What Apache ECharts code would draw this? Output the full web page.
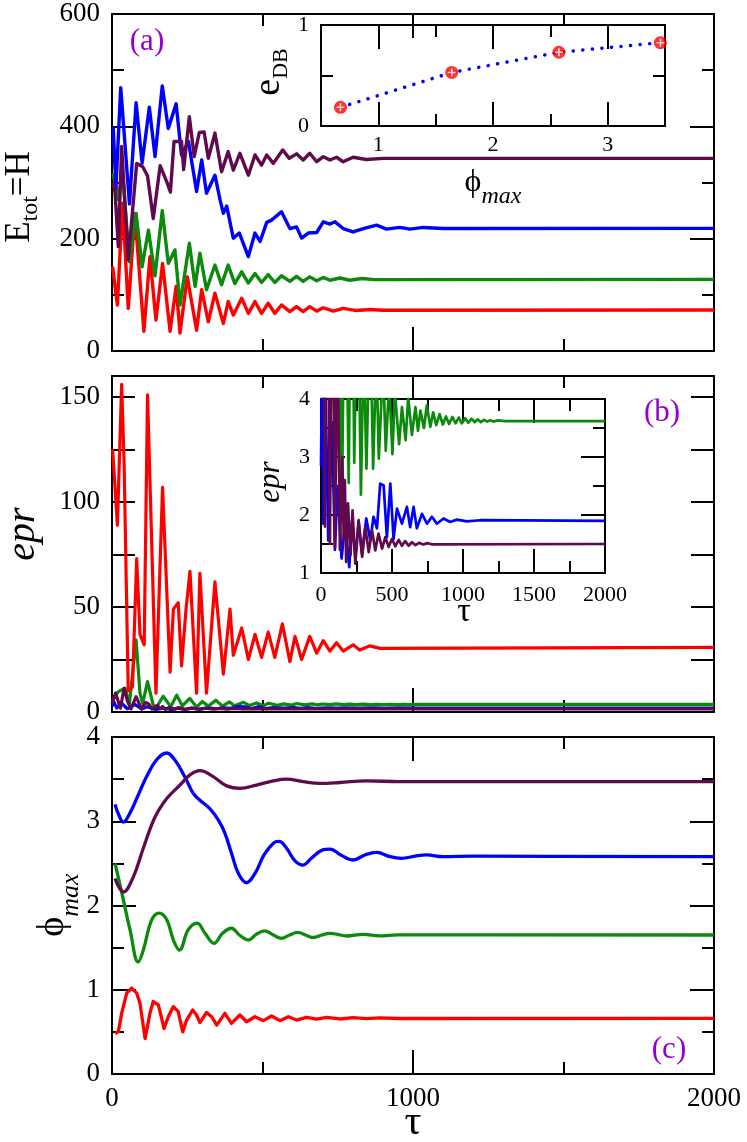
<!DOCTYPE html>
<html>
<head>
<meta charset="utf-8">
<script src="https://cdn.jsdelivr.net/npm/echarts@6/dist/echarts.min.js"></script>
<style>
  html, body { margin: 0; padding: 0; background: #fff; }
  #chart { width: 747px; height: 1142px; }
</style>
</head>
<body>
<div id="chart"></div>
<script>
// ---- data: [tau, value] ----

// (a) total energy
const aRed = [[2,150],[18,82],[35,263],[54,76],[76,245],[106,35],[126,168],[146,55],[168,156],[193,35],[213,115],[226,32],[250,132],[281,37],[298,109],[320,52],[342,103],[370,49],[386,88],[403,64],[431,94],[453,67],[475,88],[497,67],[519,85],[541,67],[563,82],[591,70],[613,79],[635,70],[657,79],[680,71],[702,77],[735,71],[768,76],[812,72],[857,74],[900,72.5],[2000,73]];
const aGreen = [[4,316],[20,270],[35,318],[58,159],[80,245],[100,150],[121,215],[143,134],[167,250],[187,156],[209,180],[226,82],[257,192],[276,115],[292,174],[314,109],[342,153],[364,118],[386,153],[408,120],[431,141],[453,121],[475,138],[497,122],[519,136],[541,122],[563,134],[591,124],[613,133],[635,124],[657,132],[680,125],[702,131],[724,126],[757,130],[790,126],[830,129],[870,127],[2000,127.6]];
const aBlue = [[4,399],[13,290],[29,469],[58,262],[80,442],[100,334],[124,434],[143,346],[167,472],[187,396],[213,440],[231,349],[254,373],[281,284],[298,340],[314,281],[342,313],[359,269],[370,245],[381,258],[403,201],[423,210],[453,168],[475,210],[492,195],[514,229],[530,233],[563,248],[591,218],[613,221],[630,201],[652,210],[680,211],[702,230],[724,226],[741,230],[768,218],[801,212],[835,218],[879,224],[912,217],[956,220],[990,217],[1034,220],[1100,218],[2000,218.4]];
const aPurple = [[2,300],[10,284],[21,186],[32,364],[54,162],[82,334],[102,328],[118,312],[137,236],[160,330],[182,301],[194,283],[206,373],[231,373],[238,323],[257,417],[273,346],[290,389],[306,390],[320,343],[342,388],[364,319],[386,355],[403,322],[425,352],[453,313],[475,349],[497,331],[514,349],[536,334],[567,358],[589,343],[613,351],[635,340],[657,352],[680,337],[702,346],[724,340],[746,345],[768,337],[801,345],[845,341],[901,343],[2000,343]];

// (b) epr (the inset shows the same green / blue / purple curves)
const bRed = [[2,125],[18,89],[32,156],[40,120],[54,10],[68,12],[82,73],[93,37],[107,32],[118,151],[146,9],[168,107],[193,19],[204,49],[220,52],[231,22],[246,49],[259,67],[281,9],[292,66],[314,9],[342,62],[370,18],[392,49],[403,27],[431,40],[453,25],[475,37],[497,26],[519,38],[541,26],[566,42],[591,24],[608,36],[630,25],[657,36],[680,28],[702,34],[724,29],[746,33],[768,29],[801,32],[823,29.5],[856,31.5],[890,30.3],[2000,30.8]];
const bGreen = [[2,5.9],[21,9.7],[43,11.3],[58,4.1],[80,34.3],[93,8.9],[102,4.1],[118,14.5],[137,3.3],[148,2.25],[170,7.5],[195,2.55],[215,8.0],[234,2.9],[258,6.5],[281,2.35],[300,5.0],[320,2.8],[345,5.6],[367,2.8],[390,4.8],[407,2.97],[437,4.6],[456,3.11],[480,4.3],[503,3.05],[520,4.14],[550,3.22],[570,3.86],[596,3.29],[614,4.03],[640,3.38],[665,3.86],[683,3.45],[700,3.8],[725,3.5],[745,3.89],[770,3.52],[790,3.77],[812,3.55],[835,3.74],[858,3.56],[880,3.7],[902,3.57],[925,3.69],[948,3.58],[970,3.68],[992,3.58],[1015,3.67],[1037,3.59],[1060,3.66],[1082,3.6],[1104,3.65],[1126,3.6],[1148,3.64],[1170,3.61],[1192,3.635],[1215,3.61],[1240,3.63],[1300,3.62],[2000,3.62]];
const bBlue = [[0,2.85],[7,4.6],[16,1.85],[30,4.4],[51,1.56],[77,3.6],[98,1.4],[117,2.5],[145,1.25],[171,1.88],[199,1.1],[218,1.88],[242,1.28],[265,1.88],[288,1.33],[319,1.94],[347,1.56],[370,1.97],[394,1.77],[417,2.54],[441,2.51],[464,1.62],[488,2.54],[511,1.59],[535,2.11],[570,1.85],[605,2.14],[628,1.79],[652,2.14],[675,1.77],[711,2.02],[746,1.85],[781,1.97],[816,1.85],[863,1.94],[910,1.88],[957,1.92],[1027,1.89],[1121,1.91],[2000,1.9]];
const bPurple = [[0,4.1],[12,9],[28,1.8],[40,11.3],[52,5],[63,1.5],[80,7.3],[98,1.45],[112,4.6],[122,3.84],[133,1.4],[150,3.0],[160,1.6],[168,2.6],[177,1.19],[190,2.2],[208,1.31],[222,2.08],[242,1.16],[265,1.91],[290,1.28],[312,1.79],[336,1.36],[359,1.74],[382,1.39],[405,1.68],[430,1.42],[453,1.62],[476,1.45],[500,1.59],[523,1.46],[547,1.57],[570,1.47],[593,1.55],[617,1.47],[640,1.53],[665,1.48],[690,1.52],[720,1.49],[750,1.515],[780,1.495],[2000,1.5]];

// (c) phi_max
const cRed = [[10,0.48],[21,0.5],[32,0.72],[49,0.96],[65,1.02],[82,0.96],[93,0.84],[110,0.42],[126,0.72],[137,0.86],[154,0.82],[173,0.54],[187,0.68],[204,0.8],[220,0.74],[235,0.5],[248,0.64],[268,0.76],[281,0.7],[292,0.61],[314,0.73],[331,0.68],[348,0.58],[375,0.72],[397,0.6],[425,0.7],[447,0.62],[475,0.68],[503,0.633],[530,0.689],[558,0.633],[586,0.68],[613,0.64],[646,0.673],[680,0.65],[713,0.673],[757,0.653],[801,0.669],[846,0.657],[890,0.665],[950,0.659],[2000,0.661]];
const cGreen = [[10,2.5],[32,2.16],[60,1.71],[87,1.33],[104,1.47],[132,1.83],[157,1.91],[182,1.83],[204,1.59],[224,1.47],[253,1.71],[283,1.79],[309,1.67],[339,1.55],[367,1.67],[397,1.73],[423,1.65],[453,1.59],[480,1.66],[506,1.7],[536,1.65],[563,1.61],[590,1.65],[617,1.68],[643,1.65],[669,1.62],[697,1.65],[724,1.67],[752,1.655],[779,1.638],[835,1.658],[890,1.64],[950,1.652],[2000,1.65]];
const cBlue = [[10,3.2],[22,3.08],[38,2.99],[60,3.1],[82,3.27],[115,3.53],[148,3.73],[182,3.81],[210,3.72],[243,3.52],[270,3.33],[292,3.25],[325,3.15],[354,3.01],[375,2.86],[397,2.62],[420,2.38],[447,2.27],[475,2.38],[505,2.6],[536,2.74],[555,2.76],[580,2.68],[608,2.53],[635,2.48],[662,2.56],[700,2.66],[724,2.67],[760,2.6],[801,2.54],[840,2.6],[879,2.63],[923,2.58],[962,2.56],[1006,2.585],[1045,2.6],[1100,2.58],[1200,2.585],[2000,2.58]];
const cPurple = [[10,2.32],[38,2.16],[71,2.34],[104,2.68],[143,3.05],[182,3.27],[226,3.43],[259,3.55],[292,3.6],[336,3.53],[381,3.42],[425,3.39],[480,3.43],[536,3.48],[580,3.5],[635,3.47],[691,3.45],[757,3.46],[846,3.48],[956,3.47],[2000,3.47]];

// inset (a): e_DB against the settled phi_max
const insetPhi = [0.67, 1.64, 2.575, 3.46];
const insetEdb = [0.185, 0.53, 0.73, 0.825];

// tick labels
const tauLabels = [0, 1000, 2000];
const phiLabels = [1, 2, 3];

// ---- style ----
const FONT = 'Liberation Serif, Times New Roman, serif';
const RED = '#ff0000';
const GREEN = '#0b8a0b';
const BLUE = '#0000ff';
const PURPLE = '#600a4d';
const VIOLET = '#9400d3';

const grids = [
  { left: 112, top: 14, width: 602, height: 337 },   // (a)
  { left: 112, top: 376, width: 602, height: 336 },  // (b)
  { left: 112, top: 737, width: 602, height: 337 },  // (c)
  { left: 321, top: 25, width: 344, height: 101 },   // inset of (a)
  { left: 321, top: 399, width: 284, height: 174 }   // inset of (b)
].map(g => Object.assign({ containLabel: false, outerBoundsMode: 'none' }, g));

const plain = v => String(v);

function valueAxis(gridIndex, position, cfg, withLabels) {
  const black = { color: '#000', width: 2 };
  const axisLabel = {
    show: withLabels,
    color: '#000',
    fontFamily: FONT,
    fontSize: cfg.fontSize,
    margin: cfg.margin,
    formatter: cfg.formatter || plain
  };
  if (cfg.labelValues) axisLabel.customValues = cfg.labelValues;
  return {
    type: 'value',
    gridIndex: gridIndex,
    position: position,
    min: cfg.min,
    max: cfg.max,
    interval: cfg.interval,
    axisLine: { show: true, onZero: false, lineStyle: black },
    axisTick: { show: true, inside: true, length: cfg.tick, lineStyle: black },
    minorTick: { show: !!cfg.minor, splitNumber: cfg.minor || 2, length: cfg.minorTick, lineStyle: black },
    splitLine: { show: false },
    minorSplitLine: { show: false },
    axisLabel: axisLabel
  };
}

const tauMain = { min: 0, max: 2000, interval: 1000, minor: 2, tick: 24, minorTick: 12, fontSize: 27, margin: 11, labelValues: tauLabels };
const yA = { min: 0, max: 600, interval: 200, minor: 2, tick: 24, minorTick: 12, fontSize: 27, margin: 12 };
const yB = { min: 0, max: 160, interval: 25, tick: 23, fontSize: 27, margin: 12,
  formatter: v => (v % 50 === 0 && v <= 150) ? String(v) : '' };
const yC = { min: 0, max: 4, interval: 1, minor: 2, tick: 24, minorTick: 12, fontSize: 27, margin: 12 };
const xIa = { min: 0.5, max: 3.5, interval: 1, minor: 2, tick: 12, minorTick: 24, fontSize: 22, margin: 8,
  labelValues: phiLabels, formatter: v => Number.isInteger(v) ? String(v) : '' };
const yIa = { min: 0, max: 1, interval: 1, minor: 2, tick: 24, minorTick: 12, fontSize: 22, margin: 12 };
const xIb = { min: 0, max: 2000, interval: 500, minor: 2, tick: 24, minorTick: 12, fontSize: 22, margin: 11 };
const yIb = { min: 1, max: 4, interval: 1, minor: 2, tick: 24, minorTick: 12, fontSize: 22, margin: 11 };

const axisSets = [
  [tauMain, yA, false, true],
  [tauMain, yB, false, true],
  [tauMain, yC, true, true],
  [xIa, yIa, true, true],
  [xIb, yIb, true, true]
];
const xAxes = [], yAxes = [];
axisSets.forEach(([xc, yc, xLab, yLab], g) => {
  xAxes.push(valueAxis(g, 'bottom', xc, xLab), valueAxis(g, 'top', xc, false));
  yAxes.push(valueAxis(g, 'left', yc, yLab), valueAxis(g, 'right', yc, false));
});

function curve(data, color, g, width, smooth) {
  return {
    type: 'line',
    data: data,
    xAxisIndex: 2 * g,
    yAxisIndex: 2 * g,
    symbol: 'none',
    smooth: smooth || false,
    clip: true,
    lineStyle: { color: color, width: width, join: 'round' },
    silent: true
  };
}

const insetPoints = insetPhi.map((p, i) => [p, insetEdb[i]]);

const series = [
  curve(aRed, RED, 0, 3.4), curve(aGreen, GREEN, 0, 3.4), curve(aBlue, BLUE, 0, 3.4), curve(aPurple, PURPLE, 0, 3.4),
  curve(bGreen, GREEN, 1, 3.2), curve(bBlue, BLUE, 1, 3.2), curve(bPurple, PURPLE, 1, 3.2), curve(bRed, RED, 1, 3.2),
  curve(cRed, RED, 2, 3.3), curve(cGreen, GREEN, 2, 3.3, 0.4), curve(cBlue, BLUE, 2, 3.3, 0.4), curve(cPurple, PURPLE, 2, 3.3, 0.4),
  curve(bGreen, GREEN, 4, 2.7), curve(bBlue, BLUE, 4, 2.7), curve(bPurple, PURPLE, 4, 2.7),
  {
    type: 'line', data: insetPoints, xAxisIndex: 6, yAxisIndex: 6, symbol: 'none',
    lineStyle: { color: BLUE, width: 3.5, type: [0.1, 9.5], cap: 'round' }
  },
  {
    type: 'scatter', data: insetPoints, xAxisIndex: 6, yAxisIndex: 6,
    symbol: 'circle', symbolSize: 13, itemStyle: { color: RED }, z: 3
  },
  {
    type: 'scatter', data: insetPoints, xAxisIndex: 6, yAxisIndex: 6,
    symbol: 'path://M4,0h2v4h4v2h-4v4h-2v-4h-4v-2h4z', symbolSize: 8, itemStyle: { color: '#fff' }, z: 4
  }
];

function label(text, x, y, size, color) {
  return { type: 'text', x: x, y: y, z: 100,
    style: { text: text, fontFamily: FONT, fontSize: size, fill: color || '#000', align: 'center', verticalAlign: 'middle' } };
}
function subLabel(main, sub, tail, x, y, mainSize, subSize, pad, rotate, italicSub) {
  const text = '{m|' + main + '}{s|' + sub + '}' + (tail ? '{m|' + tail + '}' : '');
  return { type: 'text', x: x, y: y, z: 100, rotation: rotate ? Math.PI / 2 : 0,
    style: { text: text, fontFamily: FONT, fill: '#000', align: 'center', verticalAlign: 'middle',
      rich: {
        m: { fontFamily: FONT, fontSize: mainSize, lineHeight: mainSize, verticalAlign: 'top', fill: '#000' },
        s: { fontFamily: FONT, fontSize: subSize, lineHeight: subSize, verticalAlign: 'top', fill: '#000',
             padding: [pad, 0, 0, 0], fontStyle: italicSub ? 'italic' : 'normal' }
      } } };
}

const PHI = '\u03d5';
const graphic = [
  label('(a)', 147, 42, 31, VIOLET),
  label('(b)', 662, 413, 31, VIOLET),
  label('(c)', 669, 1050, 31, VIOLET),
  subLabel('E', 'tot', '=H', 20, 197, 35, 24, 16, true, false),
  { type: 'text', x: 23, y: 534, rotation: Math.PI / 2, z: 100,
    style: { text: 'epr', fontFamily: FONT, fontStyle: 'italic', fontSize: 40, fill: '#000', align: 'center', verticalAlign: 'middle' } },
  subLabel(PHI, 'max', '', 53, 905, 38, 26, 24, true, true),
  label('\u03c4', 413, 1123, 42),
  subLabel('e', 'DB', '', 269, 72, 38, 22, 20, true, false),
  subLabel(PHI, 'max', '', 493, 183, 32, 24, 18, false, true),
  { type: 'text', x: 271, y: 482, rotation: Math.PI / 2, z: 100,
    style: { text: 'epr', fontFamily: FONT, fontStyle: 'italic', fontSize: 31, fill: '#000', align: 'center', verticalAlign: 'middle' } },
  label('\u03c4', 464, 612, 34)
];

const chart = echarts.init(document.getElementById('chart'), null, { renderer: 'canvas' });
chart.setOption({
  animation: false,
  backgroundColor: '#fff',
  textStyle: { fontFamily: FONT },
  grid: grids,
  xAxis: xAxes,
  yAxis: yAxes,
  series: series,
  graphic: graphic
});
</script>
</body>
</html>
